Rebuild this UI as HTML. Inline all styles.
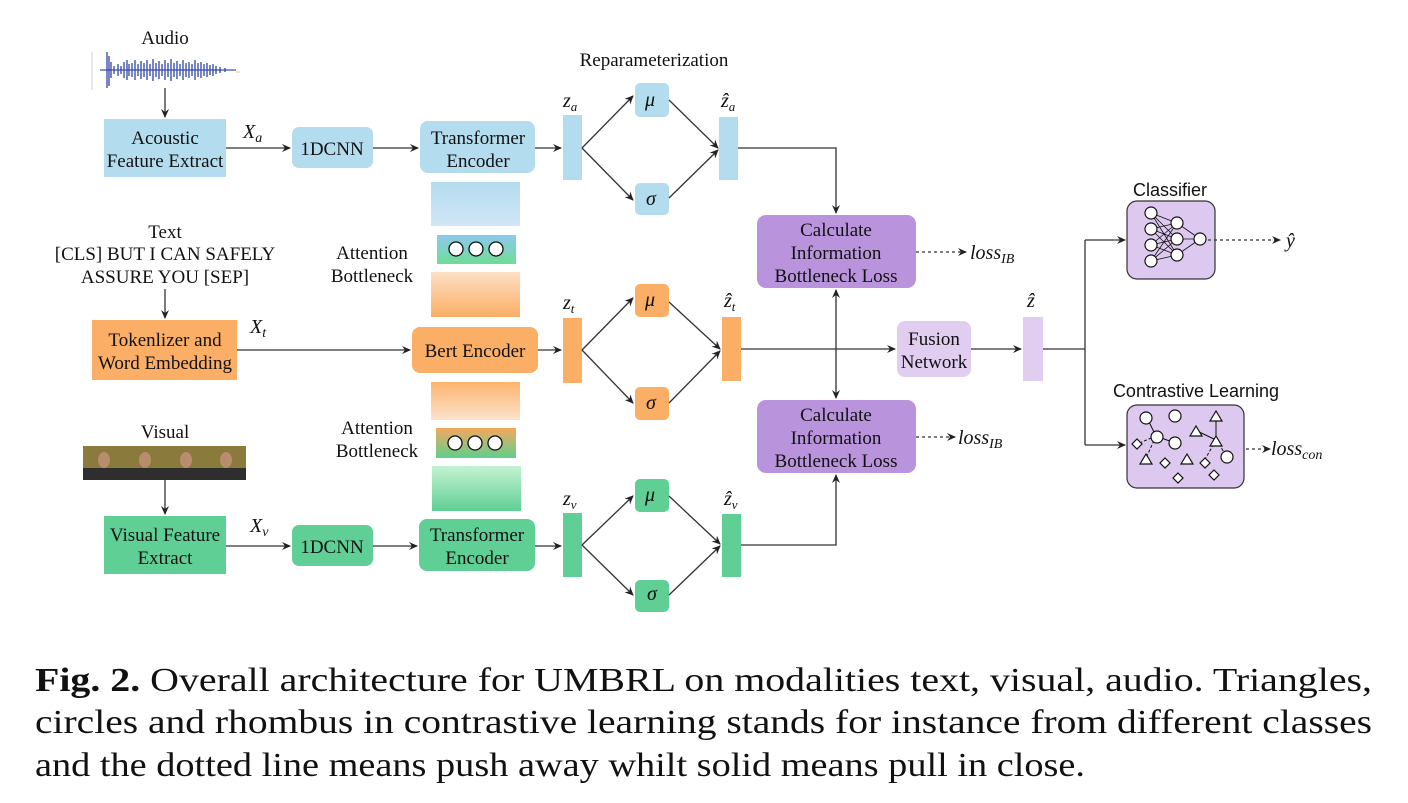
<!DOCTYPE html>
<html><head><meta charset="utf-8"><style>
body{margin:0;background:#fff}
svg{display:block}
.t{font-family:"Liberation Serif",serif;font-size:19px;fill:#111;text-anchor:middle}
.s{font-family:"Liberation Sans",sans-serif;font-size:18px;fill:#111;text-anchor:middle}
.m{font-family:"Liberation Serif",serif;font-style:italic;font-size:20px;fill:#111}
.cap{font-family:"Liberation Serif",serif;font-size:34px;fill:#111}
.l{stroke:#333;stroke-width:1.3;fill:none}
.d{stroke:#333;stroke-width:1.3;fill:none;stroke-dasharray:3,3}
</style></head><body>
<svg width="1408" height="803" viewBox="0 0 1408 803" xmlns="http://www.w3.org/2000/svg">
<defs>
<marker id="a" markerWidth="10" markerHeight="10" refX="8" refY="4" orient="auto" markerUnits="userSpaceOnUse"><path d="M0,0 L9,4 L0,8 L3,4z" fill="#222"/></marker>
<linearGradient id="gb" x1="0" y1="0" x2="0" y2="1"><stop offset="0" stop-color="#b3dcef"/><stop offset="1" stop-color="#d2e6f6"/></linearGradient>
<linearGradient id="go" x1="0" y1="0" x2="0" y2="1"><stop offset="0" stop-color="#fde0c4"/><stop offset="1" stop-color="#fbae66"/></linearGradient>
<linearGradient id="go2" x1="0" y1="0" x2="0" y2="1"><stop offset="0" stop-color="#fbb46e"/><stop offset="1" stop-color="#fde3cc"/></linearGradient>
<linearGradient id="gg" x1="0" y1="0" x2="0" y2="1"><stop offset="0" stop-color="#c4f3d2"/><stop offset="1" stop-color="#5fcf95"/></linearGradient>
<linearGradient id="bg1" x1="0" y1="0" x2="0" y2="1"><stop offset="0" stop-color="#8fc8ee"/><stop offset="1" stop-color="#6fdc96"/></linearGradient>
<linearGradient id="bg2" x1="0" y1="0" x2="0" y2="1"><stop offset="0" stop-color="#f6a85c"/><stop offset="1" stop-color="#5fcf8e"/></linearGradient>
</defs>

<!-- Audio -->
<text class="t" x="165" y="44">Audio</text>
<g stroke="#ccc" stroke-width="1"><line x1="92" y1="52" x2="92" y2="90"/><line x1="236" y1="72" x2="240" y2="72"/></g>
<line x1="100" y1="70" x2="236" y2="70" stroke="#3a4fb0" stroke-width="1.2"/>
<path stroke="#2f46a8" stroke-width="1.3" d="M107,52V88 M109,56V86 M111,62V78 M114,66V74 M118,64V76 M121,66V74 M124,62V78 M127,60V80 M129,64V76 M132,63V77 M135,60V80 M138,64V76 M141,61V79 M144,63V77 M147,60V80 M150,64V76 M153,59V81 M156,63V77 M159,61V79 M162,64V76 M165,60V80 M168,63V77 M171,59V81 M174,63V77 M177,61V79 M180,64V76 M183,60V80 M186,63V77 M189,62V78 M192,64V76 M195,60V80 M198,63V77 M201,62V78 M204,64V76 M207,63V77 M210,65V75 M213,64V76 M216,66V74 M220,67V73 M225,68V72"/>
<line class="l" x1="165" y1="88" x2="165" y2="117" marker-end="url(#a)"/>
<rect x="104" y="119" width="122" height="58" fill="#b3dcef"/>
<text class="t" x="165" y="144">Acoustic</text><text class="t" x="165" y="167">Feature Extract</text>
<text class="m" x="243" y="138">X<tspan font-size="14" dy="4">a</tspan></text>
<line class="l" x1="226" y1="148" x2="290" y2="148" marker-end="url(#a)"/>
<rect x="292" y="127" width="81" height="41" rx="7" fill="#b3dcef"/>
<text class="t" x="332" y="155">1DCNN</text>
<line class="l" x1="373" y1="148" x2="418" y2="148" marker-end="url(#a)"/>
<rect x="420" y="121" width="115" height="52" rx="8" fill="#b3dcef"/>
<text class="t" x="478" y="144">Transformer</text><text class="t" x="478" y="167">Encoder</text>
<line class="l" x1="535" y1="148" x2="561" y2="148" marker-end="url(#a)"/>

<!-- attention bottleneck 1 -->
<rect x="431" y="182" width="89" height="44" fill="url(#gb)"/>
<rect x="437" y="235" width="79" height="29" fill="url(#bg1)"/>
<g fill="#fff" stroke="#111" stroke-width="1.3"><circle cx="456" cy="249" r="7"/><circle cx="476" cy="249" r="7"/><circle cx="496" cy="249" r="7"/></g>
<rect x="431" y="272" width="89" height="45" fill="url(#go)"/>
<text class="t" x="372" y="259">Attention</text><text class="t" x="372" y="282">Bottleneck</text>

<!-- Text -->
<text class="t" x="165" y="238">Text</text>
<text class="t" x="165" y="260">[CLS] BUT I CAN SAFELY</text>
<text class="t" x="165" y="283">ASSURE YOU  [SEP]</text>
<line class="l" x1="165" y1="289" x2="165" y2="318" marker-end="url(#a)"/>
<rect x="92" y="320" width="145" height="60" fill="#fbae66"/>
<text class="t" x="165" y="346">Tokenlizer and</text><text class="t" x="165" y="369">Word Embedding</text>
<text class="m" x="250" y="333">X<tspan font-size="14" dy="4">t</tspan></text>
<line class="l" x1="237" y1="350" x2="410" y2="350" marker-end="url(#a)"/>
<rect x="412" y="327" width="126" height="46" rx="8" fill="#fbae66"/>
<text class="t" x="475" y="357">Bert Encoder</text>
<line class="l" x1="538" y1="350" x2="561" y2="350" marker-end="url(#a)"/>

<!-- attention bottleneck 2 -->
<rect x="431" y="382" width="89" height="38" fill="url(#go2)"/>
<rect x="436" y="428" width="80" height="30" fill="url(#bg2)"/>
<g fill="#fff" stroke="#111" stroke-width="1.3"><circle cx="455" cy="443" r="7"/><circle cx="475" cy="443" r="7"/><circle cx="495" cy="443" r="7"/></g>
<rect x="432" y="466" width="89" height="45" fill="url(#gg)"/>
<text class="t" x="377" y="434">Attention</text><text class="t" x="377" y="457">Bottleneck</text>

<!-- Visual -->
<text class="t" x="165" y="438">Visual</text>
<g>
<rect x="83" y="446" width="163" height="34" fill="#8a7a3c"/>
<rect x="83" y="468" width="163" height="12" fill="#2e2e2e"/>
<g fill="#b78d6e"><ellipse cx="104" cy="460" rx="6" ry="8"/><ellipse cx="145" cy="460" rx="6" ry="8"/><ellipse cx="186" cy="460" rx="6" ry="8"/><ellipse cx="226" cy="460" rx="6" ry="8"/></g>
</g>
<line class="l" x1="165" y1="480" x2="165" y2="514" marker-end="url(#a)"/>
<rect x="104" y="516" width="122" height="58" fill="#5fcf95"/>
<text class="t" x="165" y="541">Visual Feature</text><text class="t" x="165" y="564">Extract</text>
<text class="m" x="250" y="532">X<tspan font-size="14" dy="4">v</tspan></text>
<line class="l" x1="226" y1="546" x2="290" y2="546" marker-end="url(#a)"/>
<rect x="292" y="525" width="81" height="41" rx="7" fill="#5fcf95"/>
<text class="t" x="332" y="553">1DCNN</text>
<line class="l" x1="373" y1="546" x2="417" y2="546" marker-end="url(#a)"/>
<rect x="419" y="519" width="116" height="52" rx="8" fill="#5fcf95"/>
<text class="t" x="477" y="541">Transformer</text><text class="t" x="477" y="564">Encoder</text>
<line class="l" x1="535" y1="546" x2="561" y2="546" marker-end="url(#a)"/>

<!-- reparameterization -->
<text class="t" x="654" y="66">Reparameterization</text>
<rect x="563" y="115" width="19" height="65" fill="#b3dcef"/>
<text class="m" x="563" y="107">z<tspan font-size="13" dy="4">a</tspan></text>
<rect x="635" y="83" width="34" height="34" rx="5" fill="#b3dcef"/><text class="m" x="645" y="106" font-size="17">μ</text>
<rect x="635" y="183" width="34" height="32" rx="5" fill="#b3dcef"/><text class="m" x="646" y="205" font-size="17">σ</text>
<path class="l" d="M582,148 L633,96" marker-end="url(#a)"/><path class="l" d="M582,148 L633,200" marker-end="url(#a)"/>
<path class="l" d="M669,100 L718,148" marker-end="url(#a)"/><path class="l" d="M669,198 L718,150" marker-end="url(#a)"/>
<rect x="719" y="117" width="19" height="63" fill="#b3dcef"/>
<text class="m" x="721" y="107">ẑ<tspan font-size="13" dy="4">a</tspan></text>
<path class="l" d="M738,148 H836 V213" marker-end="url(#a)"/>
<rect x="563" y="318" width="19" height="65" fill="#fbae66"/>
<text class="m" x="563" y="309">z<tspan font-size="13" dy="4">t</tspan></text>
<rect x="635" y="284" width="34" height="33" rx="5" fill="#fbae66"/><text class="m" x="645" y="306" font-size="17">μ</text>
<rect x="635" y="387" width="34" height="33" rx="5" fill="#fbae66"/><text class="m" x="646" y="409" font-size="17">σ</text>
<path class="l" d="M582,350 L633,298" marker-end="url(#a)"/><path class="l" d="M582,350 L633,403" marker-end="url(#a)"/>
<path class="l" d="M669,302 L720,349" marker-end="url(#a)"/><path class="l" d="M669,403 L720,351" marker-end="url(#a)"/>
<rect x="722" y="317" width="19" height="64" fill="#fbae66"/>
<text class="m" x="724" y="307">ẑ<tspan font-size="13" dy="4">t</tspan></text>
<line class="l" x1="741" y1="349" x2="895" y2="349" marker-end="url(#a)"/>
<rect x="563" y="513" width="19" height="64" fill="#5fcf95"/>
<text class="m" x="563" y="505">z<tspan font-size="13" dy="4">v</tspan></text>
<rect x="635" y="479" width="34" height="33" rx="5" fill="#5fcf95"/><text class="m" x="645" y="501" font-size="17">μ</text>
<rect x="635" y="580" width="34" height="32" rx="5" fill="#5fcf95"/><text class="m" x="647" y="600" font-size="12">σ</text>
<path class="l" d="M582,545 L633,496" marker-end="url(#a)"/><path class="l" d="M582,545 L633,595" marker-end="url(#a)"/>
<path class="l" d="M669,496 L720,544" marker-end="url(#a)"/><path class="l" d="M669,595 L720,546" marker-end="url(#a)"/>
<rect x="722" y="514" width="19" height="63" fill="#5fcf95"/>
<text class="m" x="724" y="505">ẑ<tspan font-size="13" dy="4">v</tspan></text>
<path class="l" d="M741,545 H836 V475" marker-end="url(#a)"/>

<!-- IB boxes -->
<rect x="757" y="215" width="159" height="73" rx="9" fill="#b993dc"/>
<text class="t" x="836" y="236">Calculate</text><text class="t" x="836" y="259">Information</text><text class="t" x="836" y="282">Bottleneck Loss</text>
<line class="d" x1="916" y1="252" x2="966" y2="252" marker-end="url(#a)"/>
<text class="m" x="970" y="259">loss<tspan font-size="14" dy="4">IB</tspan></text>
<line class="l" x1="836" y1="349" x2="836" y2="290" marker-end="url(#a)"/>
<line class="l" x1="836" y1="349" x2="836" y2="398" marker-end="url(#a)"/>
<rect x="757" y="400" width="159" height="73" rx="9" fill="#b993dc"/>
<text class="t" x="836" y="421">Calculate</text><text class="t" x="836" y="444">Information</text><text class="t" x="836" y="467">Bottleneck Loss</text>
<line class="d" x1="916" y1="437" x2="955" y2="437" marker-end="url(#a)"/>
<text class="m" x="958" y="444">loss<tspan font-size="14" dy="4">IB</tspan></text>

<!-- fusion -->
<rect x="897" y="321" width="74" height="56" rx="8" fill="#e1cdf0"/>
<text class="t" x="934" y="345">Fusion</text><text class="t" x="934" y="368">Network</text>
<line class="l" x1="971" y1="349" x2="1021" y2="349" marker-end="url(#a)"/>
<rect x="1023" y="317" width="20" height="64" fill="#e1cdf0"/>
<text class="m" x="1027" y="307">ẑ</text>
<path class="l" d="M1043,349 H1085 M1085,240 V445"/>
<line class="l" x1="1085" y1="240" x2="1125" y2="240" marker-end="url(#a)"/>
<line class="l" x1="1085" y1="445" x2="1125" y2="445" marker-end="url(#a)"/>

<!-- classifier -->
<text class="s" x="1170" y="196">Classifier</text>
<rect x="1127" y="201" width="88" height="78" rx="10" fill="#ddc8f0" stroke="#333" stroke-width="1.2"/>
<g stroke="#111" stroke-width="0.8">
<path d="M1151,213 L1177,223 M1151,213 L1177,239 M1151,213 L1177,255 M1151,229 L1177,223 M1151,229 L1177,239 M1151,229 L1177,255 M1151,245 L1177,223 M1151,245 L1177,239 M1151,245 L1177,255 M1151,261 L1177,223 M1151,261 L1177,239 M1151,261 L1177,255 M1177,223 L1200,239 M1177,239 L1200,239 M1177,255 L1200,239"/>
</g>
<g fill="#fff" stroke="#111" stroke-width="1.2">
<circle cx="1151" cy="213" r="6"/><circle cx="1151" cy="229" r="6"/><circle cx="1151" cy="245" r="6"/><circle cx="1151" cy="261" r="6"/>
<circle cx="1177" cy="223" r="6"/><circle cx="1177" cy="239" r="6"/><circle cx="1177" cy="255" r="6"/><circle cx="1200" cy="239" r="6"/>
</g>
<line class="d" x1="1208" y1="240" x2="1280" y2="240" marker-end="url(#a)"/>
<text class="m" x="1286" y="247">ŷ</text>

<!-- contrastive -->
<text class="s" x="1196" y="397">Contrastive Learning</text>
<rect x="1127" y="405" width="117" height="83" rx="10" fill="#ddc8f0" stroke="#333" stroke-width="1.2"/>
<g stroke="#111" stroke-width="1" fill="none">
<path d="M1147,418 L1156,436 M1156,436 L1175,443"/>
<path d="M1156,436 L1137,444 M1156,436 L1147,456" stroke-dasharray="3,2"/>
<path d="M1195,430 L1216,440 M1216,440 L1216,421"/>
<path d="M1216,440 L1203,463 M1216,440 L1226,455" stroke-dasharray="3,2"/>
</g>
<g fill="#fff" stroke="#111" stroke-width="1.2">
<circle cx="1146" cy="418" r="6"/><circle cx="1175" cy="416" r="6"/><circle cx="1157" cy="437" r="6"/><circle cx="1175" cy="443" r="6"/><circle cx="1227" cy="457" r="6"/>
<path d="M1190,436 l6,-10 6,10z"/><path d="M1210,421 l6,-10 6,10z"/><path d="M1210,446 l6,-10 6,10z"/><path d="M1140,464 l6,-10 6,10z"/><path d="M1181,464 l6,-10 6,10z"/>
<path d="M1137,439 l5,5 -5,5 -5,-5z"/><path d="M1165,458 l5,5 -5,5 -5,-5z"/><path d="M1178,473 l5,5 -5,5 -5,-5z"/><path d="M1205,458 l5,5 -5,5 -5,-5z"/><path d="M1214,470 l5,5 -5,5 -5,-5z"/>
</g>
<line class="d" x1="1246" y1="449" x2="1270" y2="449" marker-end="url(#a)"/>
<text class="m" x="1271" y="455">loss<tspan font-size="14" dy="4">con</tspan></text>

<!-- caption -->
<text class="cap" x="35" y="691" textLength="1337" lengthAdjust="spacingAndGlyphs"><tspan font-weight="bold">Fig. 2.</tspan> Overall architecture for UMBRL on modalities text, visual, audio. Triangles,</text>
<text class="cap" x="35" y="733" textLength="1337" lengthAdjust="spacingAndGlyphs">circles and rhombus in contrastive learning stands for instance from different classes</text>
<text class="cap" x="35" y="776" textLength="1050" lengthAdjust="spacingAndGlyphs">and the dotted line means push away whilt solid means pull in close.</text>
</svg>
</body></html>
